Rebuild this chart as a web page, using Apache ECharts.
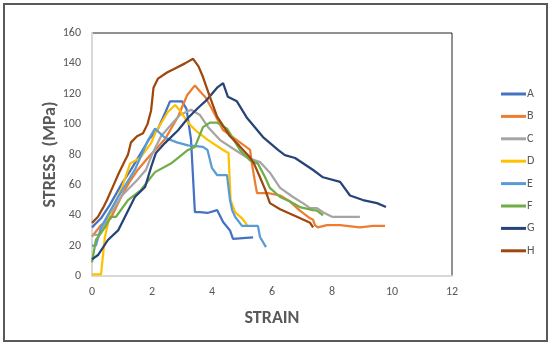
<!DOCTYPE html>
<html>
<head>
<meta charset="utf-8">
<script src="https://cdn.jsdelivr.net/npm/echarts@6/dist/echarts.min.js"></script>
<style>
html,body{margin:0;padding:0;background:#fff;}
#frame{position:absolute;left:3px;top:3px;width:541px;height:335px;border:2px solid #595959;}
#chart{position:absolute;left:0;top:0;width:550px;height:343px;}
</style>
</head>
<body>
<div id="frame"></div>
<div id="chart"></div>
<script>
const seriesNames = ['A','B','C','D','E','F','G','H'];
const seriesColors = ['#4472C4','#ED7D31','#A5A5A5','#FFC000','#5B9BD5','#70AD47','#264478','#9E480E'];
const xTicks = [0,2,4,6,8,10,12];
const yTicks = [0,20,40,60,80,100,120,140,160];

const aX = [0,0.3,0.6,1.0,1.3,1.6,1.9,2.2,2.45,2.6,3.0,3.15,3.3,3.43,3.6,3.85,4.17,4.37,4.6,4.7,5.03,5.37];
const aY = [32,38,47,61,70,80,90,97,108,115,115,110,90,42,42,41.5,43.4,35.6,30,24.5,25,25.5];

const bX = [0,0.3,0.63,0.97,1.25,1.53,1.87,2.15,2.43,2.87,3.17,3.43,3.67,3.77,4.0,4.37,4.83,5.27,5.33,5.45,5.5,5.87,6.27,6.6,6.93,7.27,7.37,7.43,7.53,7.83,8.27,8.93,9.37,9.77];
const bY = [26,33.5,38,52,62,70,78,84,90,105,119,125.5,120,118,110,96,89.5,83,74,60,54.6,54.6,53,49,43,38,37,33.5,32,33.5,33.5,32,33,33];

const cX = [0,0.25,0.5,1.0,1.5,1.8,2.0,2.3,2.7,2.93,3.3,3.6,3.87,4.27,4.77,5.17,5.6,5.93,6.27,6.7,7.03,7.27,7.5,7.7,8.0,8.93];
const cY = [27,27,37,53,63,70,80,92,101,106,109.5,106,98,89.5,83,78,75,68,58,52,48,44.7,44.7,42,39,39];

const dX = [0,0.3,0.43,0.63,0.97,1.27,1.6,1.97,2.13,2.53,2.77,2.93,3.2,3.5,3.87,4.37,4.55,4.62,4.77,5.0,5.17];
const dY = [1,1,25.7,43,56.6,74,77.7,87.5,95,108,112.6,109,101,95,89.5,83,81,50,42,38,33.5];

const eX = [0,0.13,0.3,0.87,1.43,1.87,2.1,2.43,2.83,3.2,3.7,3.85,4.0,4.17,4.5,4.6,4.67,4.77,5.0,5.53,5.6,5.8];
const eY = [20,20,32,52,70,89.5,97,91,88,86,85,83,71,66.5,66.5,50,43.4,39,33,33,25.7,19];

const fX = [0,0.13,0.43,0.63,0.8,1.2,1.63,2.1,2.63,3.2,3.43,3.7,3.93,4.17,4.5,4.93,5.27,5.53,5.77,5.93,6.27,6.6,6.93,7.37,7.5,7.7];
const fY = [9,23.7,32,39,39,50,56.6,68.4,74,83,85,98,101,101,97,83,76,74,65,58,52,49,45.4,43.4,43,40];

const gX = [0,0.2,0.53,0.87,1.2,1.43,1.77,1.97,2.13,2.43,2.87,3.2,3.53,3.83,4.17,4.37,4.53,4.83,5.17,5.7,6.2,6.43,6.77,7.37,7.7,8.27,8.6,9.03,9.5,9.8];
const gY = [11,13.8,23.7,30,43,52,58.6,71.7,81,87.5,96,104,110.6,116,124,127,118,115,104,91.5,83,79.6,77.7,69.8,65,62,53,50,48,45.4];

const hX = [0,0.2,0.37,0.5,0.7,0.9,1.1,1.2,1.3,1.5,1.7,1.85,1.97,2.05,2.2,2.5,2.8,3.1,3.37,3.55,3.7,3.93,4.17,4.4,4.6,4.9,5.27,5.4,5.6,5.77,5.93,6.27,6.83,7.27,7.37];
const hY = [35,39,45,50,59,68,76,80,88,92,94,100,109,124,130,134,137,140,143,138,131,118,105,98,92,86,78,74,65,57,48,44,39,35,32];

const allX = [aX,bX,cX,dX,eX,fX,gX,hX];
const allY = [aY,bY,cY,dY,eY,fY,gY,hY];

const chart = echarts.init(document.getElementById('chart'));
const series = seriesNames.map((n,i)=>({
  name:n, type:'line', showSymbol:false, symbol:'none',
  data: allX[i].map((x,j)=>[x, allY[i][j]]),
  lineStyle:{width:2.25, color:seriesColors[i]},
  itemStyle:{color:seriesColors[i]},
  emphasis:{disabled:true}, z: 2 + i
}));
const fontFam = 'Calibri, Carlito, "Liberation Sans", "Open Sans", sans-serif';
chart.setOption({
  animation:false,
  grid:{left:92, right:98, top:33, bottom:67, show:true, borderColor:'#222', borderWidth:1, backgroundColor:'transparent'},
  xAxis:{type:'value', min:0, max:12, interval:2,
    name:'STRAIN', nameLocation:'middle', nameGap:33, nameMoveOverlap:false,
    nameTextStyle:{fontSize:18, fontWeight:'bold', color:'#595959', fontFamily:fontFam},
    axisLine:{show:true, lineStyle:{color:'#d9d9d9', width:2}},
    axisTick:{show:false}, splitLine:{show:false},
    axisLabel:{fontSize:12, color:'#595959', margin:10, fontFamily:fontFam}},
  yAxis:{type:'value', min:0, max:160, interval:20,
    name:'STRESS  (MPa)', nameLocation:'middle', nameGap:33, nameRotate:90, nameMoveOverlap:false,
    nameTextStyle:{fontSize:18, fontWeight:'bold', color:'#595959', fontFamily:fontFam},
    axisLine:{show:true, lineStyle:{color:'#d9d9d9', width:2}},
    axisTick:{show:false}, splitLine:{show:false},
    axisLabel:{fontSize:12, color:'#595959', margin:11, fontFamily:fontFam}},
  legend:{orient:'vertical', left:496, top:82, itemWidth:25, itemHeight:3, icon:'rect', itemGap:8.4,
    textStyle:{fontSize:12, color:'#595959', lineHeight:14, padding:[0,0,0,-4], fontFamily:fontFam},
    data:seriesNames},
  series: series
});
</script>
</body>
</html>
